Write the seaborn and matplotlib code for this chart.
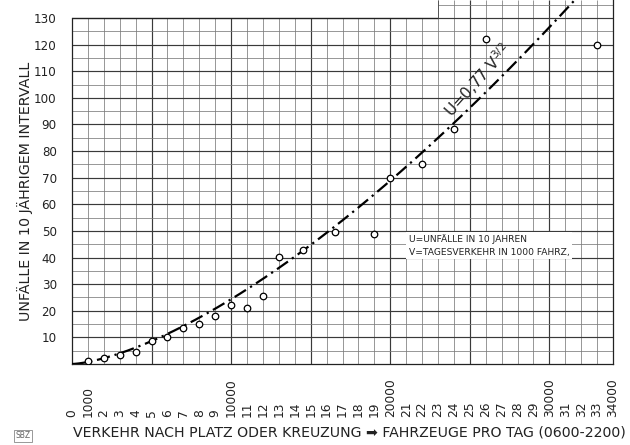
import numpy as np
import pandas as pd
import matplotlib
matplotlib.use("Agg")
import matplotlib.pyplot as plt
import seaborn as sns

# ---- data ----
traffic_k = [1, 2, 3, 4, 5, 6, 7, 8, 9, 10, 11, 12, 13, 14.5, 16.5, 19, 20, 22, 24, 26, 33]
accidents = [1.2, 2.1, 3.5, 4.4, 8.5, 10, 13.7, 14.9, 18, 22.2, 21, 25.7, 40.3, 42.8,
             49.5, 48.9, 69.8, 75.2, 88.2, 122, 119.9]
fit_coef = 0.77
fit_exp = 1.5
x_tick_values = list(range(0, 35))
x_tick_labels = ["0", "1000", "2", "3", "4", "5", "6", "7", "8", "9", "10000",
                 "11", "12", "13", "14", "15", "16", "17", "18", "19", "20000",
                 "21", "22", "23", "24", "25", "26", "27", "28", "29", "30000",
                 "31", "32", "33", "34000"]
y_tick_values = list(range(10, 131, 10))
y_label = "UNFÄLLE IN 10 JÄHRIGEM INTERVALL"
x_label = "VERKEHR NACH PLATZ ODER KREUZUNG \u27A1 FAHRZEUGE PRO TAG (0600-2200)"
legend_lines = ["U=UNFÄLLE IN 10 JAHREN", "V=TAGESVERKEHR IN 1000 FAHRZ,"]

# ---- style ----
sns.set_style("white")
FONT = ["DejaVu Sans"]
plt.rcParams["font.family"] = FONT

XMAX = 34
YTOP = 130
YLIM_TOP = 136.77
X_EXT = 23  # grid continues above 130 from here (scan artefact)

fig = plt.figure(figsize=(6.3, 4.45), dpi=100)
ax = fig.add_axes([72 / 630, 81 / 445, 541 / 630, 364 / 445])
ax.set_xlim(0, XMAX)
ax.set_ylim(0, YLIM_TOP)

minor_c, major_c = "#7a7a7a", "#3a3a3a"
# vertical grid
for xv in range(1, XMAX):
    top = YLIM_TOP if xv >= X_EXT else YTOP
    major = xv % 5 == 0
    ax.vlines(xv, 0, top, color=major_c if major else minor_c,
              lw=0.85 if major else 0.55, zorder=1)
# horizontal grid
for yv in range(5, 140, 5):
    if yv > YLIM_TOP:
        continue
    major = yv % 10 == 0
    x0 = 0 if yv <= YTOP else X_EXT
    ax.hlines(yv, x0, XMAX, color=major_c if major else minor_c,
              lw=0.85 if major else 0.55, zorder=1)
ax.hlines(YTOP, 0, X_EXT, color="#222222", lw=0.9, zorder=1)
ax.vlines(X_EXT, YTOP, YLIM_TOP, color="#555555", lw=0.7, zorder=1)

ax.spines["top"].set_visible(False)
ax.spines["left"].set_bounds(0, YTOP)
for s in ["left", "right", "bottom"]:
    ax.spines[s].set_color("#222222")
    ax.spines[s].set_linewidth(0.9)

# fitted curve
v_fit = np.linspace(0, XMAX, 400)
fit_df = pd.DataFrame({"V": v_fit, "U": fit_coef * v_fit ** fit_exp})
sns.lineplot(data=fit_df, x="V", y="U", ax=ax, color="black", lw=1.6,
             linestyle=(0, (6, 2.2, 1.0, 2.2)), zorder=3)

# observed points
pts = pd.DataFrame({"V": traffic_k, "U": accidents})
sns.scatterplot(data=pts, x="V", y="U", ax=ax, s=22, marker="o",
                facecolor="white", edgecolor="black", linewidth=0.9, zorder=4)

# ticks
ax.set_yticks(y_tick_values)
ax.set_yticklabels([str(v) for v in y_tick_values], fontsize=8.6, color="#222222")
ax.set_xticks(x_tick_values)
ax.set_xticklabels(x_tick_labels, fontsize=8.8, color="#222222")
ax.tick_params(axis="y", length=0, pad=11)
ax.tick_params(axis="x", length=0, pad=38, labelrotation=90)
for lab in ax.get_xticklabels():
    lab.set_verticalalignment("bottom")
    lab.set_horizontalalignment("center")

ax.set_xlabel("")
ax.set_ylabel("")
fig.text(25 / 630, 1 - 191 / 445, y_label, rotation=90, ha="center", va="center",
         fontsize=10.3, color="#222222")
fig.text(349 / 630, 1 - 433 / 445, x_label, ha="center", va="center",
         fontsize=10.2, color="#222222")
fig.text(23 / 630, 1 - 436 / 445, "SBZ", ha="center", va="center", fontsize=5.5,
         color="#666666",
         bbox=dict(boxstyle="square,pad=0.15", fc="white", ec="#888888", lw=0.6))

# formula annotation
ax.text(25.5, 106.5, "U=0,77 V$^{3/2}$", rotation=48, rotation_mode="anchor",
        ha="center", va="center", fontsize=11, color="#222222", zorder=5)

# legend text box
ax.text(21.15, 44.5, "\n".join(legend_lines), ha="left", va="center",
        fontsize=6.6, color="#222222", linespacing=1.6, zorder=5,
        bbox=dict(boxstyle="square,pad=0.25", fc="white", ec="none"))

fig.savefig("out.png", dpi=100, facecolor="white")
